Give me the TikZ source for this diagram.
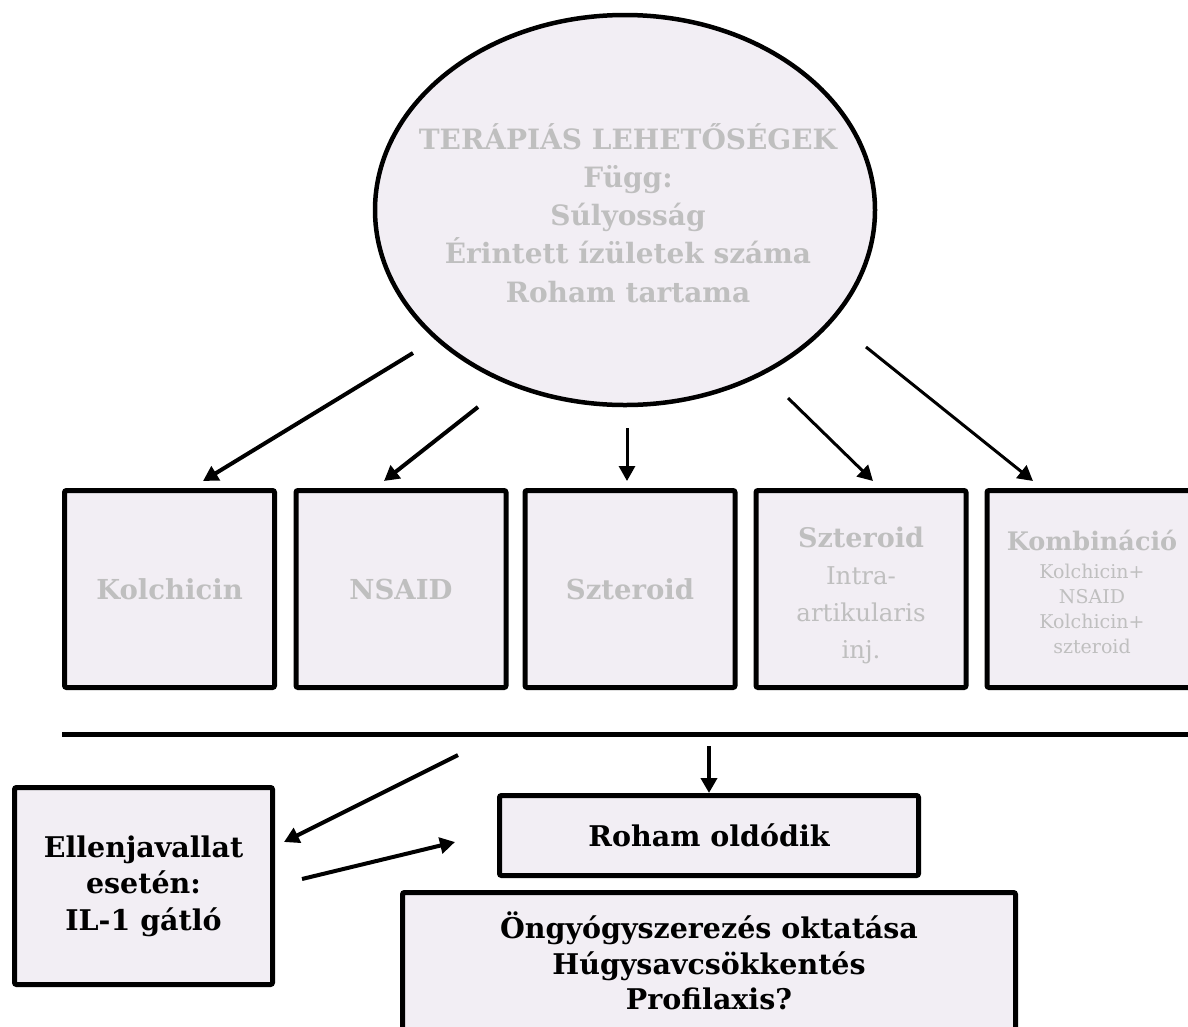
\documentclass[tikz,border=0pt]{standalone}
\usepackage{fontspec}
\setmainfont{DejaVu Serif}
\usetikzlibrary{shapes.geometric,arrows.meta}
\definecolor{boxfill}{HTML}{F2EEF4}
\definecolor{txtgray}{HTML}{BFBFBF}
\begin{document}
\begin{tikzpicture}[x=1pt,y=-1pt,
  card/.style={draw=black,line width=5pt,fill=boxfill,rounded corners=2pt,inner sep=0pt,align=center},
  topcard/.style={card,minimum width=210pt,minimum height=197pt,text=txtgray},
  gtext/.style={text=txtgray,align=center,inner sep=0pt},
  arr/.style={line width=4pt,-{Triangle[length=15pt,width=16pt]}},
  thinarr/.style={arr,line width=3pt},
  gbig/.style={font=\bfseries\fontsize{27.5}{36}\selectfont},
  btxt/.style={text=black,align=center,font=\bfseries\fontsize{28.5}{36.5}\selectfont}]
\useasboundingbox (0,0) rectangle (1188,1026);
\clip (0,0) rectangle (1188,1026);

% central ellipse
\node[ellipse,draw=black,line width=4.5pt,fill=boxfill,inner sep=0pt,
      minimum width=500pt,minimum height=390pt] (ell) at (625,210) {};
\node[gtext,font=\bfseries\fontsize{28}{38.2}\selectfont] (elltxt) at (628,213)
  {TERÁPIÁS LEHETŐSÉGEK\\Függ:\\Súlyosság\\Érintett ízületek száma\\Roham tartama};

% therapy boxes
\node[topcard,gbig] (kol) at (169.5,589) {Kolchicin};
\node[topcard,gbig] (nsa) at (401,589) {NSAID};
\node[topcard,gbig] (szt) at (630,589) {Szteroid};
\node[topcard] (inj) at (861,589) {};
\node[gtext,font=\fontsize{24.5}{37}\selectfont] (injtxt) at (861,595)
  {{\bfseries\fontsize{27}{37}\selectfont Szteroid}\\Intra-\\artikularis\\inj.};
\node[topcard] (kom) at (1092,589) {};
\node[gtext,font=\fontsize{19}{25}\selectfont] (komtxt) at (1092,592)
  {{\bfseries\fontsize{25.5}{30}\selectfont Kombináció}\\[3pt]Kolchicin+\\NSAID\\Kolchicin+\\szteroid};

% arrows from ellipse
\coordinate (k0) at (413,353);  \coordinate (k1) at (203,481);
\coordinate (n0) at (478,407);  \coordinate (n1) at (384,481);
\coordinate (s0) at (627,428);  \coordinate (s1) at (627,481);
\coordinate (i0) at (788,398);  \coordinate (i1) at (873,481);
\coordinate (c0) at (866,347);  \coordinate (c1) at (1033,481);
\draw[arr] (k0) -- (k1);
\draw[arr] (n0) -- (n1);
\draw[thinarr] (s0) -- (s1);
\draw[thinarr] (i0) -- (i1);
\draw[thinarr] (c0) -- (c1);

% separator
\coordinate (hl0) at (62,734); \coordinate (hl1) at (1195,734);
\draw[line width=5pt] (hl0) -- (hl1);

% lower part
\node[card,btxt,minimum width=258pt,minimum height=197pt] (ell2) at (143.5,886)
  {Ellenjavallat\\esetén:\\IL-1 gátló};
\node[card,btxt,minimum width=419pt,minimum height=80pt] (roh) at (709,835.5)
  {Roham oldódik};
\node[card,minimum width=613pt,minimum height=180pt] (edu) at (709,982.5) {};
\node[btxt,font=\bfseries\fontsize{28.5}{35.5}\selectfont] (edutxt) at (709,961)
  {Öngyógyszerezés oktatása\\Húgysavcsökkentés\\Profilaxis?};

\coordinate (r0) at (709,746);
\coordinate (e0) at (458,755); \coordinate (e1) at (284,842);
\coordinate (f0) at (302,879); \coordinate (f1) at (455,842);
\draw[arr] (r0) -- (roh.north);
\draw[arr] (e0) -- (e1);
\draw[arr] (f0) -- (f1);
\end{tikzpicture}
\end{document}
